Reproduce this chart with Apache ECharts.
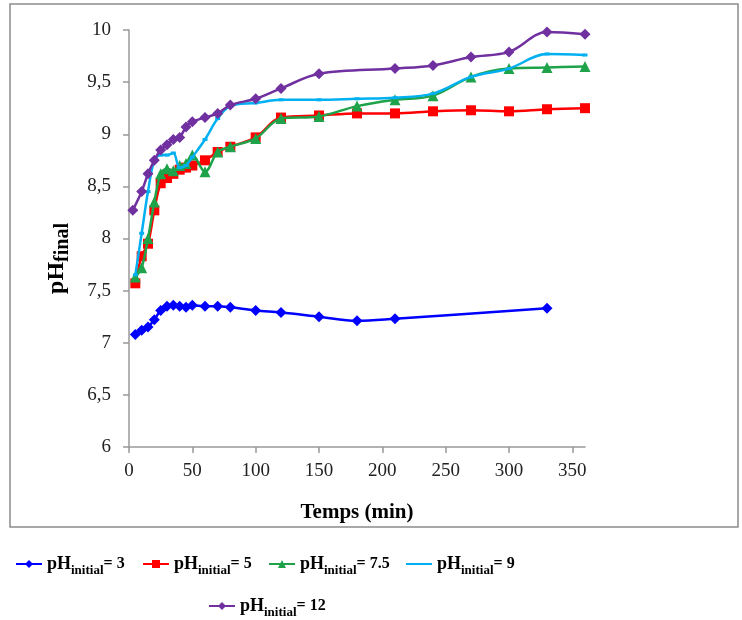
<!DOCTYPE html>
<html>
<head>
<meta charset="utf-8">
<script src="https://cdn.jsdelivr.net/npm/echarts@6/dist/echarts.min.js"></script>
<style>
html,body{margin:0;padding:0;background:#fff;}
#chart{width:742px;height:620px;}
</style>
</head>
<body>
<div id="chart"></div>
<script>
// ---- data (time in min, final pH) ----
const timesPH3  = [5,10,15,20,25,30,35,40,45,50,60,70,80,100,120,150,180,210,330];
const valuesPH3 = [7.08,7.12,7.15,7.22,7.31,7.35,7.36,7.35,7.34,7.36,7.35,7.35,7.34,7.31,7.29,7.25,7.21,7.23,7.33];

const timesPH5  = [5,10,15,20,25,30,35,40,45,50,60,70,80,100,120,150,180,210,240,270,300,330,360];
const valuesPH5 = [7.57,7.83,7.95,8.27,8.53,8.58,8.62,8.66,8.68,8.70,8.75,8.83,8.88,8.97,9.16,9.18,9.20,9.20,9.22,9.23,9.22,9.24,9.25];

const timesPH75  = [5,10,15,20,25,30,35,40,45,50,60,70,80,100,120,150,180,210,240,270,300,330,360];
const valuesPH75 = [7.63,7.72,8.00,8.35,8.62,8.67,8.65,8.70,8.72,8.80,8.64,8.83,8.88,8.96,9.15,9.17,9.27,9.33,9.37,9.55,9.63,9.64,9.65];

const timesPH9  = [5,10,15,20,25,30,35,40,45,50,60,70,80,100,120,150,180,210,240,270,300,330,360];
const valuesPH9 = [7.65,8.05,8.45,8.75,8.80,8.80,8.82,8.68,8.70,8.78,8.95,9.15,9.27,9.30,9.33,9.33,9.34,9.35,9.39,9.55,9.63,9.77,9.76];

const timesPH12  = [3,10,15,20,25,30,35,40,45,50,60,70,80,100,120,150,210,240,270,300,330,360];
const valuesPH12 = [8.27,8.45,8.62,8.75,8.85,8.90,8.95,8.97,9.07,9.12,9.16,9.20,9.28,9.34,9.44,9.58,9.63,9.66,9.74,9.79,9.98,9.96];

const seriesNames   = ['pH initial= 3','pH initial= 5','pH initial= 7.5','pH initial= 9','pH initial= 12'];
const legendSuffix  = ['= 3','= 5','= 7.5','= 9','= 12'];
const xTickValues   = [0,50,100,150,200,250,300,350];

function zip(t, v){ return t.map((x,i)=>[x, v[i]]); }

const SERIF = '"Liberation Serif","Times New Roman",serif';
const chart = echarts.init(document.getElementById('chart'), null, {renderer:'canvas'});

const colors = ['#0000FF','#FF0000','#1FA34A','#00B0F0','#7030A0'];
const symbols = ['diamond','rect','triangle','rect','diamond'];
const symbolSizes = [11,10,11,[5,3],11];
const allData = [zip(timesPH3,valuesPH3), zip(timesPH5,valuesPH5), zip(timesPH75,valuesPH75), zip(timesPH9,valuesPH9), zip(timesPH12,valuesPH12)];

const series = seriesNames.map((n,i)=>({
  name:n, type:'line', data:allData[i], smooth:0.35,
  symbol:symbols[i], symbolSize:symbolSizes[i], showSymbol:true,
  itemStyle:{color:colors[i]}, lineStyle:{color:colors[i], width:2.5},
  z: [2,3,4,5,6][i]
}));

const legendRich = {
  a:{fontFamily:SERIF, fontWeight:'bold', fontSize:18, color:'#000', lineHeight:26, verticalAlign:'middle'},
  b:{fontFamily:SERIF, fontWeight:'bold', fontSize:13, color:'#000', lineHeight:14, verticalAlign:'bottom'},
  c:{fontFamily:SERIF, fontWeight:'bold', fontSize:16, color:'#000', lineHeight:26, verticalAlign:'middle'}
};
const legendPos = [[15,555],[142,555],[268,555],[405,555],[208,597]];
const legends = seriesNames.map((n,i)=>({
  data:[n], left:legendPos[i][0], top:legendPos[i][1], padding:0,
  itemWidth:26, itemHeight:10, itemGap:0,
  itemStyle: i===3 ? {opacity:0} : {},
  formatter:function(name){ const k=seriesNames.indexOf(name); return '{a|pH}{b|initial}{c|'+legendSuffix[k]+'}'; },
  textStyle:{rich:legendRich}
}));

const option = {
  animation:false,
  backgroundColor:'#fff',
  graphic:[{type:'rect', shape:{x:10,y:4,width:728,height:523}, style:{fill:null, stroke:'#8c8c8c', lineWidth:1.5}, silent:true}],
  grid:{left:129, top:30, width:456, height:417, containLabel:false},
  legend:legends,
  xAxis:{
    type:'value', min:0, max:360,
    name:'Temps (min)', nameLocation:'middle', nameGap:55,
    nameTextStyle:{fontFamily:SERIF, fontWeight:'bold', fontSize:21, color:'#000'},
    axisLine:{lineStyle:{color:'#999', width:1.5}},
    axisTick:{show:true, length:6, customValues:xTickValues, lineStyle:{color:'#999', width:1.5}},
    axisLabel:{customValues:xTickValues, fontFamily:SERIF, fontSize:19, color:'#222', margin:15},
    splitLine:{show:false}
  },
  yAxis:{
    type:'value', min:6, max:10, interval:0.5,
    name:'{a|pH}{b|final}', nameLocation:'middle', nameGap:56,
    nameTextStyle:{padding:[0,40,0,0], rich:{
      a:{fontFamily:SERIF, fontWeight:'bold', fontSize:24, color:'#000', lineHeight:32, verticalAlign:'middle'},
      b:{fontFamily:SERIF, fontWeight:'bold', fontSize:20, color:'#000', lineHeight:18, verticalAlign:'bottom'}
    }},
    axisLine:{show:true, lineStyle:{color:'#999', width:1.5}},
    axisTick:{show:true, length:6, lineStyle:{color:'#999', width:1.5}},
    axisLabel:{fontFamily:SERIF, fontSize:19, color:'#222', margin:18,
      formatter:function(v){ return String(v).replace('.',','); }},
    splitLine:{show:false}
  },
  series:series
};
chart.setOption(option);
</script>
</body>
</html>
